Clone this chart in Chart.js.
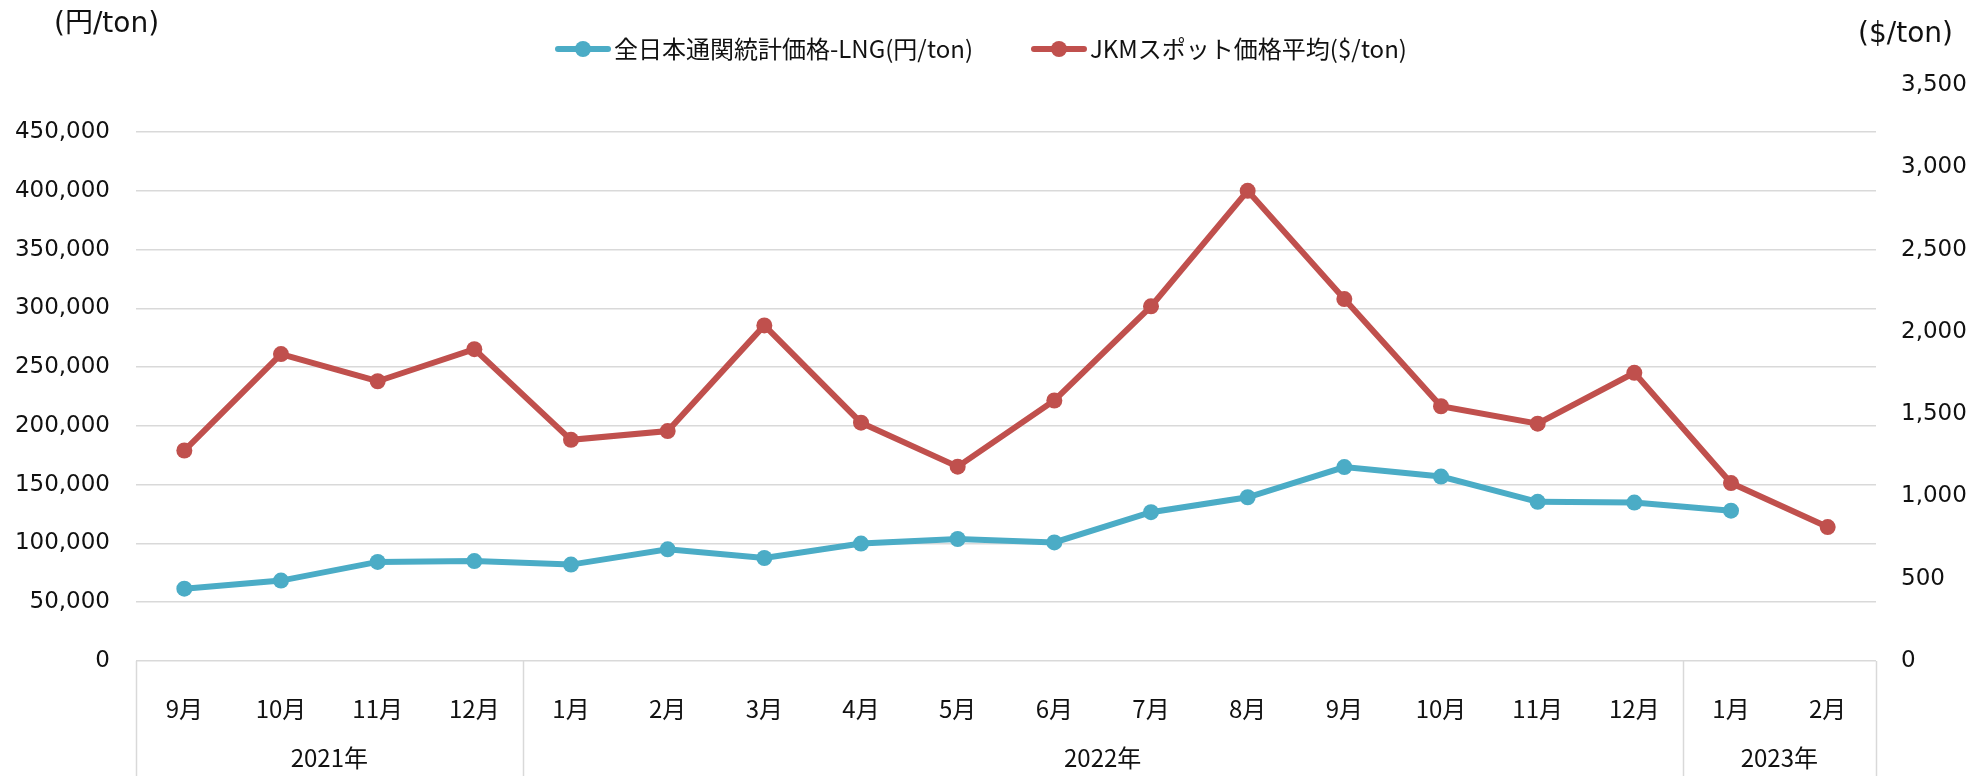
<!DOCTYPE html>
<html>
<head>
<meta charset="utf-8">
<script src="https://cdn.jsdelivr.net/npm/chart.js@4/dist/chart.umd.min.js"></script>
<style>
  html, body { margin: 0; padding: 0; background: #fff; }
  #wrap { width: 1972px; height: 776px; }
</style>
</head>
<body>
<div id="wrap"><canvas id="lngChart" width="1972" height="776"></canvas></div>
<script>
// month labels and year groups (start index, count)
const months = ['9月', '10月', '11月', '12月', '1月', '2月', '3月', '4月', '5月', '6月',
  '7月', '8月', '9月', '10月', '11月', '12月', '1月', '2月'];
const yearLabels = ['2021年', '2022年', '2023年'];
const yearCounts = [4, 12, 2];

// 全日本通関統計価格-LNG (円/ton), left axis
const customsPrice = [61500, 68400, 84300, 85000, 82000, 95000, 87600, 99900, 103800,
  100900, 126600, 139300, 165000, 156900, 135400, 134800, 127900, null];
// JKMスポット価格平均 ($/ton), right axis
const jkmPrice = [1279, 1865, 1700, 1895, 1344, 1397, 2039, 1448, 1181, 1583, 2155,
  2857, 2199, 1548, 1442, 1751, 1081, 814];

// tick values of both axes
const leftTicks = [0, 50000, 100000, 150000, 200000, 250000, 300000, 350000, 400000, 450000];
const rightTicks = [0, 500, 1000, 1500, 2000, 2500, 3000, 3500];

const seriesNames = ['全日本通関統計価格-LNG(円/ton)', 'JKMスポット価格平均($/ton)'];
const leftUnit = '(円/ton)';
const rightUnit = '($/ton)';

const BLUE = '#4BACC6';
const RED = '#C0504D';
const GRID = '#D9D9D9';
const TEXT = '#111111';
const JP_FONT = '"Noto Sans CJK JP", "Noto Sans", sans-serif';
const NUM_FONT = '"DejaVu Sans", "Noto Sans CJK JP", sans-serif';

// draws legend, unit labels, year row and the category separators
const extrasPlugin = {
  id: 'extras',
  afterDraw(chart) {
    const ctx = chart.ctx;
    const area = chart.chartArea;
    const xs = chart.scales.x;
    const h = chart.height;

    ctx.save();
    // unit labels
    ctx.fillStyle = TEXT;
    ctx.font = '28px ' + NUM_FONT;
    ctx.textBaseline = 'middle';
    ctx.textAlign = 'left';
    ctx.fillText(leftUnit, 54, 25);
    ctx.fillText(rightUnit, 1858, 35);

    // legend
    ctx.font = '24px ' + JP_FONT;
    let lx = 555;
    const ly = 49;
    chart.data.datasets.forEach((ds, i) => {
      ctx.strokeStyle = ds.borderColor;
      ctx.lineWidth = 6;
      ctx.lineCap = 'round';
      ctx.beginPath();
      ctx.moveTo(lx + 3, ly);
      ctx.lineTo(lx + 53, ly);
      ctx.stroke();
      ctx.fillStyle = ds.borderColor;
      ctx.beginPath();
      ctx.arc(lx + 28, ly, 8, 0, Math.PI * 2);
      ctx.fill();
      ctx.fillStyle = TEXT;
      ctx.fillText(ds.label, lx + 59, ly);
      lx += 59 + ctx.measureText(ds.label).width + 58;
    });

    // category separators and year labels
    const step = (area.right - area.left) / months.length;
    ctx.strokeStyle = GRID;
    ctx.lineWidth = 1.5;
    ctx.lineCap = 'butt';
    ctx.textAlign = 'center';
    let start = 0;
    const edges = [0];
    yearCounts.forEach(c => { start += c; edges.push(start); });
    edges.forEach(e => {
      const px = Math.round(xs.getPixelForValue(e) - step / 2) + 0.5;
      ctx.beginPath();
      ctx.moveTo(px, area.bottom);
      ctx.lineTo(px, h);
      ctx.stroke();
    });
    ctx.fillStyle = TEXT;
    yearLabels.forEach((label, i) => {
      const a = xs.getPixelForValue(edges[i]) - step / 2;
      const b = xs.getPixelForValue(edges[i + 1]) - step / 2;
      ctx.fillText(label, (a + b) / 2, 758);
    });
    ctx.restore();
  }
};

const ctx = document.getElementById('lngChart').getContext('2d');
new Chart(ctx, {
  type: 'line',
  data: {
    labels: months,
    datasets: [
      {
        label: seriesNames[0],
        data: customsPrice,
        yAxisID: 'y',
        borderColor: BLUE,
        backgroundColor: BLUE,
        borderWidth: 6,
        pointRadius: 8,
        pointBorderWidth: 0,
        pointBackgroundColor: BLUE
      },
      {
        label: seriesNames[1],
        data: jkmPrice,
        yAxisID: 'y1',
        borderColor: RED,
        backgroundColor: RED,
        borderWidth: 6,
        pointRadius: 8,
        pointBorderWidth: 0,
        pointBackgroundColor: RED
      }
    ]
  },
  options: {
    responsive: false,
    animation: false,
    devicePixelRatio: 1,
    layout: { padding: { top: 85, left: 0, right: 0, bottom: 0 } },
    plugins: {
      legend: { display: false },
      tooltip: { enabled: false }
    },
    scales: {
      x: {
        offset: true,
        grid: { display: false },
        border: { display: false },
        ticks: {
          color: TEXT,
          font: { family: JP_FONT, size: 24 },
          padding: 25,
          maxRotation: 0,
          autoSkip: false
        },
        afterFit(scale) { scale.height = 115; }
      },
      y: {
        position: 'left',
        min: 0,
        max: 490000,
        grid: { color: GRID, lineWidth: 1.5, drawTicks: false },
        border: { display: false },
        ticks: {
          color: TEXT,
          padding: 26,
          font: { family: NUM_FONT, size: 23 },
          callback: v => v.toLocaleString('en-US')
        },
        afterBuildTicks(scale) { scale.ticks = leftTicks.map(v => ({ value: v })); },
        afterFit(scale) { scale.width = 136; }
      },
      y1: {
        position: 'right',
        min: 0,
        max: 3500,
        grid: { display: false, drawTicks: false },
        border: { display: false },
        ticks: {
          color: TEXT,
          padding: 25,
          font: { family: NUM_FONT, size: 23 },
          callback: v => v.toLocaleString('en-US')
        },
        afterBuildTicks(scale) { scale.ticks = rightTicks.map(v => ({ value: v })); },
        afterFit(scale) { scale.width = 96; }
      }
    }
  },
  plugins: [extrasPlugin]
});
</script>
</body>
</html>
